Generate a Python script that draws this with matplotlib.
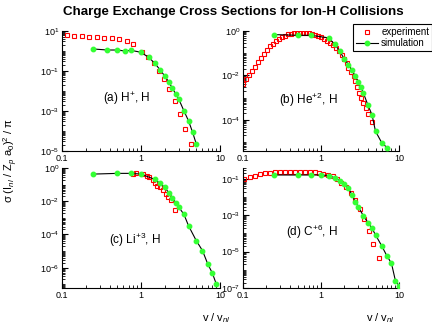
import numpy as np
import matplotlib
matplotlib.use("Agg")
import matplotlib.pyplot as plt
from matplotlib.ticker import FixedLocator, LogLocator, NullFormatter, FuncFormatter
from matplotlib.lines import Line2D

# ---------------- data ----------------
# (a) H+, H
a_exp_x = [0.115, 0.142, 0.177, 0.222, 0.275, 0.343, 0.425, 0.531, 0.659, 0.80,
           1.03, 1.24, 1.46, 1.71, 1.96, 2.28, 2.69, 3.14, 3.6, 4.26]
a_exp_y = [6.3, 5.8, 5.6, 5.2, 5.0, 4.6, 4.3, 3.85, 3.2, 2.2,
           0.92, 0.48, 0.24, 0.1, 0.041, 0.0126, 0.0033, 6.8e-4, 1.3e-4, 2.2e-5]
a_sim_x = [0.25, 0.375, 0.5, 0.625, 0.75, 1.0, 1.25, 1.5, 1.75, 2.0,
           2.25, 2.5, 2.75, 3.0, 3.5, 4.0, 4.5, 5.0]
a_sim_y = [1.26, 1.12, 1.12, 1.0, 1.08, 0.86, 0.48, 0.24, 0.112, 0.056,
           0.028, 0.0136, 0.0071, 0.004, 0.001, 3.2e-4, 8.6e-5, 2.3e-5]

# (b) He+2, H
b_exp_x = [0.1, 0.109, 0.119, 0.130, 0.142, 0.157, 0.171, 0.185, 0.202, 0.221,
           0.241, 0.263, 0.29, 0.317, 0.347, 0.378, 0.413, 0.451, 0.492, 0.537,
           0.587, 0.641, 0.706, 0.772, 0.843, 0.92, 1.0, 1.10, 1.20, 1.31,
           1.43, 1.56, 1.69, 1.84, 1.99, 2.13, 2.22, 2.44, 2.62, 2.72,
           2.86, 3.03, 3.25, 3.48, 3.76, 4.06, 4.48]
b_exp_y = [4.0e-3, 6.9e-3, 0.0104, 0.0156, 0.0243, 0.0405, 0.063, 0.095, 0.143, 0.201,
           0.264, 0.347, 0.44, 0.54, 0.62, 0.71, 0.76, 0.81, 0.84, 0.84,
           0.84, 0.84, 0.81, 0.76, 0.69, 0.62, 0.54, 0.44, 0.347, 0.274,
           0.223, 0.17, 0.12, 0.083, 0.055, 0.0366, 0.022, 0.0146, 0.0097, 0.0056,
           0.0029, 0.0017, 9.5e-4, 5.7e-4, 3.4e-4, 1.85e-4, 8.1e-5]
b_sim_x = [0.25, 0.5, 0.75, 1.25, 1.5, 1.75, 2.0, 2.25, 2.5, 2.75,
           3.0, 3.25, 3.5, 4.0, 4.5, 5.0, 6.0, 7.0]
b_sim_y = [0.69, 0.64, 0.64, 0.49, 0.255, 0.12, 0.053, 0.031, 0.0173, 0.0093,
           0.0052, 0.0029, 0.0016, 4.6e-4, 1.73e-4, 3.1e-5, 9.5e-6, 5.7e-6]

# (c) Li+3, H
c_exp_x = [0.785, 0.865, 1.05, 1.2, 1.26, 1.41, 1.52, 1.61, 1.74, 1.91,
           2.05, 2.22, 2.4, 2.69]
c_exp_y = [0.43, 0.52, 0.43, 0.33, 0.27, 0.187, 0.117, 0.081, 0.068, 0.046,
           0.029, 0.018, 0.0115, 0.0031]
c_sim_x = [0.25, 0.5, 0.75, 1.0, 1.5, 1.75, 2.0, 2.25, 2.5, 2.75,
           3.0, 3.5, 4.0, 5.0, 6.0, 7.0, 8.0, 9.0]
c_sim_y = [0.43, 0.475, 0.475, 0.43, 0.206, 0.118, 0.068, 0.032, 0.0167, 0.0083,
           0.0045, 0.0016, 3.3e-4, 4.3e-5, 1.07e-5, 1.67e-6, 4.75e-7, 1.0e-7]

# (d) C+6, H
d_exp_x = [0.104, 0.123, 0.143, 0.165, 0.191, 0.222, 0.257, 0.298, 0.345, 0.40,
           0.46, 0.54, 0.62, 0.72, 0.84, 0.95, 1.07, 1.24, 1.41, 1.59,
           1.82, 2.07, 2.40, 2.73, 3.16, 3.6, 4.17, 4.69, 5.54]
d_exp_y = [0.0995, 0.133, 0.151, 0.179, 0.204, 0.221, 0.232, 0.241, 0.251, 0.251,
           0.251, 0.251, 0.251, 0.251, 0.241, 0.221, 0.187, 0.171, 0.145, 0.0995,
           0.062, 0.0375, 0.0176, 0.007, 0.0021, 6.1e-4, 1.38e-4, 2.6e-5, 4.7e-6]
d_sim_x = [0.25, 0.5, 0.75, 1.0, 1.25, 1.5, 1.75, 2.0, 2.25, 2.5,
           2.75, 3.0, 3.5, 4.0, 4.5, 5.0, 6.0, 7.0, 8.0, 9.0, 10.0]
d_sim_y = [0.165, 0.165, 0.165, 0.165, 0.151, 0.117, 0.080, 0.053, 0.031, 0.013,
           0.0056, 0.003, 9.2e-4, 4e-4, 1.94e-4, 8.3e-5, 2.1e-5, 5.8e-6, 2.3e-6, 2.5e-7, 1.35e-7]

panel_labels = ["(a) H$^{+}$, H", "(b) He$^{+2}$, H", "(c) Li$^{+3}$, H", "(d) C$^{+6}$, H"]

# ---------------- style ----------------
plt.rcParams["font.family"] = ["Liberation Sans", "DejaVu Sans"]
plt.rcParams["mathtext.fontset"] = "custom"
plt.rcParams["mathtext.rm"] = "Liberation Sans"
plt.rcParams["mathtext.it"] = "Liberation Sans:italic"
plt.rcParams["mathtext.bf"] = "Liberation Sans:bold"

fig = plt.figure(figsize=(4.32, 3.27), dpi=100)

W, H = 432, 327
def box(l, r, t, b):
    return [l / W, 1 - b / H, (r - l) / W, (b - t) / H]

specs = [
    (box(62, 220, 31, 151), a_exp_x, a_exp_y, a_sim_x, a_sim_y, (1e-5, 10), [1e1, 1e-1, 1e-3, 1e-5], (0.41, 0.44)),
    (box(243, 399, 31, 151), b_exp_x, b_exp_y, b_sim_x, b_sim_y, (4e-6, 1), [1e0, 1e-2, 1e-4], (0.42, 0.425)),
    (box(62, 220, 168, 288), c_exp_x, c_exp_y, c_sim_x, c_sim_y, (6e-8, 1), [1e0, 1e-2, 1e-4, 1e-6], (0.46, 0.40)),
    (box(243, 399, 168, 288), d_exp_x, d_exp_y, d_sim_x, d_sim_y, (1e-7, 0.4), [1e-1, 1e-3, 1e-5, 1e-7], (0.44, 0.467)),
]

def pow_fmt(v, pos):
    e = int(round(np.log10(v)))
    return r"10$^{%d}$" % e

axes = []
for i, (rect, ex, ey, sx, sy, ylim, yticks, lpos) in enumerate(specs):
    ax = fig.add_axes(rect)
    ax.set_xscale("log")
    ax.set_yscale("log")
    ax.plot(sx, sy, "-", color="black", lw=0.8, marker="o", ms=3.2,
            mfc="#33ff33", mec="#33ff33", zorder=3)
    ax.plot(ex, ey, "s", ms=3.0, mfc="none", mec="red", mew=0.8, zorder=2)
    ax.set_xlim(0.1, 10)
    ax.set_ylim(*ylim)
    for s in ["top", "right"]:
        ax.spines[s].set_visible(False)
    ax.xaxis.set_major_locator(FixedLocator([0.1, 1, 10]))
    ax.xaxis.set_major_formatter(FuncFormatter(lambda v, p: {0.1: "0.1", 1: "1", 10: "10"}.get(round(v, 1), "")))
    ax.xaxis.set_minor_locator(LogLocator(base=10, subs=np.arange(2, 10), numticks=20))
    ax.xaxis.set_minor_formatter(NullFormatter())
    ax.yaxis.set_major_locator(FixedLocator(yticks))
    ax.yaxis.set_major_formatter(FuncFormatter(pow_fmt))
    ax.yaxis.set_minor_locator(LogLocator(base=10, subs=np.arange(1, 10), numticks=40))
    ax.yaxis.set_minor_formatter(NullFormatter())
    ax.tick_params(which="major", direction="in", length=4, width=0.8, labelsize=6.5, pad=2)
    ax.tick_params(which="minor", direction="in", length=2, width=0.6)
    ax.text(lpos[0], lpos[1], panel_labels[i], transform=ax.transAxes,
            ha="center", va="center", fontsize=8.5)
    axes.append(ax)

axes[2].set_xlabel("v / v$_{nl}$", fontsize=8)
axes[2].xaxis.set_label_coords(0.98, -0.19)
axes[3].set_xlabel("v / v$_{nl}$", fontsize=8)
axes[3].xaxis.set_label_coords(0.88, -0.19)

fig.text(0.025, 0.51, "σ (I$_{nl}$ / Z$_{p}$ a$_{0}$)$^{2}$ / π", rotation=90,
         ha="center", va="center", fontsize=8)

fig.text(0.541, 0.963, "Charge Exchange Cross Sections for Ion-H Collisions",
         ha="center", va="center", fontsize=9.6, fontweight="bold")

handles = [
    Line2D([], [], ls="none", marker="s", ms=3.0, mfc="none", mec="red", mew=0.8),
    Line2D([], [], color="black", lw=0.8, marker="o", ms=3.2, mfc="#33ff33", mec="#33ff33"),
]
leg = fig.legend(handles, ["experiment", "simulation"], loc="upper left",
                 bbox_to_anchor=(353 / W, 1 - 24 / H), fontsize=7, frameon=True,
                 fancybox=False, edgecolor="black", framealpha=1,
                 handlelength=2.3, handletextpad=0.3, labelspacing=0.15,
                 borderpad=0.3, borderaxespad=0)
leg.get_frame().set_linewidth(0.8)

fig.savefig("out.png", dpi=100)
